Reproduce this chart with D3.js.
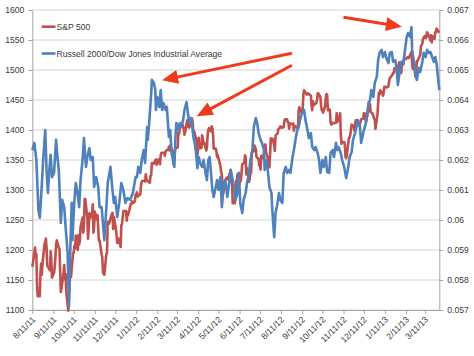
<!DOCTYPE html>
<html>
<head>
<meta charset="utf-8">
<script src="https://cdn.jsdelivr.net/npm/d3@7"></script>
<style>
  html, body { margin: 0; padding: 0; background: #fff; }
  svg { display: block; }
  text { font-family: "Liberation Sans", Arial, sans-serif; }
</style>
</head>
<body>
<svg id="chart" width="474" height="356"></svg>
<script>
// ---------------- DATA ----------------
const seriesNames = ["S&P 500", "Russell 2000/Dow Jones Industrial Average"];

// S&P 500 daily close [date, value] (left axis)
const sp500 = [
["8/11/11",1172],["8/12/11",1179],["8/15/11",1204],["8/16/11",1192],["8/17/11",1193],["8/18/11",1140],["8/19/11",1123],["8/22/11",1123],["8/23/11",1162],["8/24/11",1177],["8/25/11",1159],["8/26/11",1177],["8/29/11",1210],["8/30/11",1212],["8/31/11",1219],
["9/1/11",1204],["9/2/11",1174],["9/6/11",1166],["9/7/11",1198],["9/8/11",1185],["9/9/11",1154],["9/12/11",1162],["9/13/11",1172],["9/14/11",1188],["9/15/11",1209],["9/16/11",1216],["9/19/11",1204],["9/20/11",1202],["9/21/11",1166],["9/22/11",1130],["9/23/11",1136],["9/26/11",1162],["9/27/11",1175],["9/28/11",1151],["9/29/11",1160],["9/30/11",1131],
["10/3/11",1099],["10/4/11",1123],["10/5/11",1144],["10/6/11",1164],["10/7/11",1155],["10/10/11",1195],["10/11/11",1195],["10/12/11",1207],["10/13/11",1203],["10/14/11",1224],["10/17/11",1200],["10/18/11",1225],["10/19/11",1209],["10/20/11",1215],["10/21/11",1238],["10/24/11",1254],["10/25/11",1229],["10/26/11",1242],["10/27/11",1285],["10/28/11",1285],["10/31/11",1253],
["11/1/11",1219],["11/2/11",1237],["11/3/11",1261],["11/4/11",1253],["11/7/11",1262],["11/8/11",1276],["11/9/11",1229],["11/10/11",1240],["11/11/11",1264],["11/14/11",1251],["11/15/11",1258],["11/16/11",1237],["11/17/11",1216],["11/18/11",1216],["11/21/11",1193],["11/22/11",1188],["11/23/11",1162],["11/25/11",1159],["11/28/11",1193],["11/29/11",1196],["11/30/11",1247],
["12/1/11",1244],["12/2/11",1244],["12/5/11",1257],["12/6/11",1259],["12/7/11",1262],["12/8/11",1235],["12/9/11",1255],["12/12/11",1236],["12/13/11",1225],["12/14/11",1212],["12/15/11",1216],["12/16/11",1219],["12/19/11",1205],["12/20/11",1241],["12/21/11",1243],["12/22/11",1254],["12/23/11",1265],["12/27/11",1265],["12/28/11",1249],["12/29/11",1263],["12/30/11",1258],
["1/3/12",1277],["1/4/12",1277],["1/5/12",1281],["1/6/12",1278],["1/9/12",1281],["1/10/12",1292],["1/11/12",1292],["1/12/12",1296],["1/13/12",1289],["1/17/12",1293],["1/18/12",1308],["1/19/12",1314],["1/20/12",1315],["1/23/12",1316],["1/24/12",1314],["1/25/12",1326],["1/26/12",1318],["1/27/12",1316],["1/30/12",1313],["1/31/12",1312],
["2/1/12",1324],["2/2/12",1325],["2/3/12",1345],["2/6/12",1344],["2/7/12",1347],["2/8/12",1349],["2/9/12",1351],["2/10/12",1342],["2/13/12",1351],["2/14/12",1351],["2/15/12",1343],["2/16/12",1358],["2/17/12",1362],["2/21/12",1362],["2/22/12",1357],["2/23/12",1363],["2/24/12",1366],["2/27/12",1367],["2/28/12",1372],["2/29/12",1366],
["3/1/12",1374],["3/2/12",1370],["3/5/12",1364],["3/6/12",1343],["3/7/12",1352],["3/8/12",1366],["3/9/12",1370],["3/12/12",1371],["3/13/12",1396],["3/14/12",1394],["3/15/12",1403],["3/16/12",1404],["3/19/12",1409],["3/20/12",1405],["3/21/12",1402],["3/22/12",1392],["3/23/12",1397],["3/26/12",1416],["3/27/12",1413],["3/28/12",1405],["3/29/12",1404],["3/30/12",1408],
["4/2/12",1419],["4/3/12",1413],["4/4/12",1398],["4/5/12",1398],["4/9/12",1382],["4/10/12",1358],["4/11/12",1368],["4/12/12",1387],["4/13/12",1370],["4/16/12",1370],["4/17/12",1391],["4/18/12",1385],["4/19/12",1377],["4/20/12",1379],["4/23/12",1366],["4/24/12",1371],["4/25/12",1391],["4/26/12",1400],["4/27/12",1403],["4/30/12",1398],
["5/1/12",1406],["5/2/12",1403],["5/3/12",1392],["5/4/12",1369],["5/7/12",1369],["5/8/12",1364],["5/9/12",1355],["5/10/12",1358],["5/11/12",1353],["5/14/12",1339],["5/15/12",1330],["5/16/12",1325],["5/17/12",1305],["5/18/12",1295],["5/21/12",1316],["5/22/12",1318],["5/23/12",1320],["5/24/12",1321],["5/25/12",1318],["5/29/12",1333],["5/30/12",1313],["5/31/12",1310],
["6/1/12",1278],["6/4/12",1278],["6/5/12",1286],["6/6/12",1315],["6/7/12",1315],["6/8/12",1326],["6/11/12",1309],["6/12/12",1324],["6/13/12",1315],["6/14/12",1329],["6/15/12",1343],["6/18/12",1345],["6/19/12",1358],["6/20/12",1355],["6/21/12",1326],["6/22/12",1336],["6/25/12",1314],["6/26/12",1319],["6/27/12",1331],["6/28/12",1329],["6/29/12",1362],
["7/2/12",1365],["7/3/12",1374],["7/5/12",1368],["7/6/12",1355],["7/9/12",1352],["7/10/12",1341],["7/11/12",1341],["7/12/12",1334],["7/13/12",1357],["7/16/12",1353],["7/17/12",1363],["7/18/12",1372],["7/19/12",1376],["7/20/12",1363],["7/23/12",1351],["7/24/12",1338],["7/25/12",1338],["7/26/12",1360],["7/27/12",1386],["7/30/12",1385],["7/31/12",1379],
["8/1/12",1375],["8/2/12",1365],["8/3/12",1391],["8/6/12",1394],["8/7/12",1401],["8/8/12",1402],["8/9/12",1403],["8/10/12",1406],["8/13/12",1404],["8/14/12",1404],["8/15/12",1405],["8/16/12",1415],["8/17/12",1418],["8/20/12",1418],["8/21/12",1413],["8/22/12",1413],["8/23/12",1402],["8/24/12",1411],["8/27/12",1410],["8/28/12",1409],["8/29/12",1411],["8/30/12",1399],["8/31/12",1407],
["9/4/12",1404],["9/5/12",1403],["9/6/12",1432],["9/7/12",1438],["9/10/12",1429],["9/11/12",1433],["9/12/12",1436],["9/13/12",1460],["9/14/12",1466],["9/17/12",1461],["9/18/12",1459],["9/19/12",1461],["9/20/12",1461],["9/21/12",1460],["9/24/12",1457],["9/25/12",1441],["9/26/12",1433],["9/27/12",1448],["9/28/12",1441],
["10/1/12",1444],["10/2/12",1445],["10/3/12",1450],["10/4/12",1461],["10/5/12",1461],["10/8/12",1455],["10/9/12",1441],["10/10/12",1433],["10/11/12",1433],["10/12/12",1429],["10/15/12",1440],["10/16/12",1455],["10/17/12",1460],["10/18/12",1458],["10/19/12",1433],["10/22/12",1434],["10/23/12",1413],["10/24/12",1409],["10/25/12",1412],["10/26/12",1411],["10/31/12",1412],
["11/1/12",1428],["11/2/12",1414],["11/5/12",1418],["11/6/12",1428],["11/7/12",1394],["11/8/12",1377],["11/9/12",1380],["11/12/12",1380],["11/13/12",1375],["11/14/12",1355],["11/15/12",1353],["11/16/12",1359],["11/19/12",1387],["11/20/12",1387],["11/21/12",1392],["11/23/12",1409],["11/26/12",1406],["11/27/12",1399],["11/28/12",1409],["11/29/12",1416],["11/30/12",1416],
["12/3/12",1409],["12/4/12",1407],["12/5/12",1410],["12/6/12",1413],["12/7/12",1418],["12/10/12",1419],["12/11/12",1428],["12/12/12",1428],["12/13/12",1419],["12/14/12",1414],["12/17/12",1430],["12/18/12",1446],["12/19/12",1436],["12/20/12",1443],["12/21/12",1430],["12/24/12",1427],["12/26/12",1419],["12/27/12",1418],["12/28/12",1402],["12/31/12",1426],
["1/2/13",1462],["1/3/13",1459],["1/4/13",1466],["1/7/13",1462],["1/8/13",1457],["1/9/13",1461],["1/10/13",1472],["1/11/13",1472],["1/14/13",1471],["1/15/13",1472],["1/16/13",1472],["1/17/13",1480],["1/18/13",1486],["1/22/13",1492],["1/23/13",1495],["1/24/13",1495],["1/25/13",1503],["1/28/13",1500],["1/29/13",1507],["1/30/13",1502],["1/31/13",1498],
["2/1/13",1513],["2/4/13",1495],["2/5/13",1512],["2/6/13",1512],["2/7/13",1509],["2/8/13",1518],["2/11/13",1518],["2/12/13",1520],["2/13/13",1521],["2/14/13",1521],["2/15/13",1520],["2/19/13",1530],["2/20/13",1512],["2/21/13",1502],["2/22/13",1516],["2/25/13",1488],["2/26/13",1496],["2/27/13",1515],["2/28/13",1515],
["3/1/13",1518],["3/4/13",1525],["3/5/13",1540],["3/6/13",1541],["3/7/13",1544],["3/8/13",1552],["3/11/13",1557],["3/12/13",1553],["3/13/13",1555],["3/14/13",1563],["3/15/13",1561],["3/18/13",1553],["3/19/13",1549],["3/20/13",1558],["3/21/13",1546],["3/22/13",1556],["3/25/13",1552],["3/26/13",1563],["3/27/13",1563],["3/28/13",1569],["4/1/13",1562]
];

// Russell 2000 / Dow ratio (right axis): [days since ratioStart, value]
const ratioStart = "8/11/11";
const ratio = [
[0,.06233],[3,.06257],[6,.06200],[9,.06033],[11,.06007],[14,.06117],[16,.06200],[19,.06300],[21,.06167],[23,.06090],[25,.06167],[27,.06217],[29,.06143],[32,.06157],[35,.06267],[37,.06210],[39,.06167],[42,.05990],[44,.06067],[47,.06043],[49,.05977],[52,.05890],[54,.05713],[56,.05910],[58,.06057],[59,.05933],[62,.06067],[64,.06123],[66,.06100],[69,.06043],[71,.06133],[74,.06200],[76,.06273],[79,.06177],[81,.06210],[84,.06240],[86,.06200],[89,.06210],[91,.06110],[94,.06143],[97,.06110],[99,.06043],[102,.06043],[106,.05933],[109,.06043],[111,.06123],[115,.06177],[118,.06100],[120,.06057],[122,.06077],[125,.06010],[128,.06057],[131,.06123],[134,.06100],[137,.06057],[140,.06073],[144,.06067],[148,.06090],[152,.06143],
[154,.06143],[156,.06177],[159,.06157],[161,.06200],[164,.06233],[166,.06190],[169,.06310],[170,.06267],[172,.06323],[175,.06423],[176,.06467],[179,.06457],[181,.06433],[182,.06367],[184,.06410],[187,.06377],[189,.06433],[191,.06367],[193,.06390],[196,.06367],[198,.06377],[201,.06277],[203,.06300],[205,.06223],[207,.06200],[209,.06177],[211,.06290],[212,.06323],[215,.06300],[217,.06323],[219,.06310],[222,.06333],[224,.06367],[227,.06393],[229,.06357],[231,.06323],[233,.06340],[235,.06323],[237,.06277],[239,.06257],[241,.06223],[243,.06173],[245,.06210],[247,.06190],[250,.06177],[252,.06200],[255,.06157],[257,.06133],[259,.06200],[261,.06210],[263,.06157],[265,.06100],[267,.06077],[270,.06110],[272,.06133],[274,.06100],[277,.06143],[279,.06043],[282,.06123],[284,.06133],[287,.06077],[289,.06110],[292,.06167],[294,.06143],[297,.06110],[299,.06067],[302,.06090],[304,.06157],[306,.06057],
[309,.06023],[311,.06067],[314,.06090],[316,.06123],[319,.06157],[321,.06200],[324,.06233],[326,.06310],[329,.06340],[331,.06323],[333,.06290],[336,.06267],[338,.06257],[341,.06233],[342,.06167],[345,.06200],[347,.06157],[349,.06110],[352,.06090],[353,.06043],[356,.05943],[358,.06023],[361,.06057],[363,.06090],[365,.06067],[368,.06057],[370,.06157],[373,.06177],[375,.06157],[378,.06167],[380,.06157],[383,.06210],[385,.06233],[388,.06277],[390,.06300],[392,.06310],[395,.06343],[397,.06357],[400,.06367],[402,.06333],[405,.06300],[407,.06273],[410,.06290],[412,.06243],[415,.06233],[417,.06243],[420,.06223],[422,.06200],[424,.06157],[427,.06200],[429,.06177],[432,.06210],[434,.06160],[437,.06157],[439,.06223],[442,.06233],[444,.06210],[447,.06257],[449,.06233],[451,.06243],[454,.06223],[456,.06200],[459,.06177],[462,.06140],
[465,.06177],[467,.06210],[470,.06227],[472,.06267],[475,.06290],[477,.06310],[479,.06333],[482,.06317],[484,.06257],[487,.06290],[489,.06307],[492,.06333],[494,.06377],[497,.06400],[499,.06433],[502,.06410],[504,.06457],[507,.06477],[509,.06533],[511,.06557],[514,.06567],[516,.06543],[519,.06560],[521,.06540],[524,.06523],[526,.06557],[529,.06560],[531,.06527],[534,.06533],[536,.06510],[538,.06450],[541,.06500],[543,.06527],[546,.06523],[548,.06557],[551,.06610],[553,.06623],[556,.06610],[558,.06643],[559,.06567],[562,.06523],[564,.06490],[566,.06467],[569,.06507],[571,.06493],[574,.06527],[576,.06557],[579,.06543],[581,.06567],[584,.06557],[586,.06560],[589,.06540],[591,.06527],[593,.06543],[595,.06523],[597,.06477],[599,.06433]
];

const xDomain = ["8/11/11", "4/1/13"];
const xTickLabels = ["8/11/11","9/11/11","10/11/11","11/11/11","12/11/11","1/11/12","2/11/12","3/11/12","4/11/12","5/11/12","6/11/12","7/11/12","8/11/12","9/11/12","10/11/12","11/11/12","12/11/12","1/11/13","2/11/13","3/11/13"];
const leftTicks = [1100,1150,1200,1250,1300,1350,1400,1450,1500,1550,1600];
const rightTicks = [0.057,0.058,0.059,0.060,0.061,0.062,0.063,0.064,0.065,0.066,0.067];
const rightTickLabels = ["0.057","0.058","0.059","0.06","0.061","0.062","0.063","0.064","0.065","0.066","0.067"];

// annotation arrows: [tail date, tail S&P-scale value, head date, head value]
const arrows = [
  ["8/27/12",1528,"2/18/12",1483],
  ["8/27/12",1508,"4/9/12",1423],
  ["11/11/12",1588,"2/5/13",1572]
];

// ---------------- DRAW ----------------
const parse = d3.timeParse("%m/%d/%y");
const svg = d3.select("#chart");
const L = 32.3, R = 439.3, T = 10, B = 310;

const x = d3.scaleTime().domain(xDomain.map(parse)).range([L, R]);
const yL = d3.scaleLinear().domain([1100, 1600]).range([B, T]);
const yR = d3.scaleLinear().domain([0.057, 0.067]).range([B, T]);

const gridColor = "#d4d4d4", axisColor = "#a6a6a6", textColor = "#3a3a3a";
const redColor = "#c0504d", blueColor = "#4f81bd", arrowColor = "#f03a1c";

// gridlines
svg.append("g").selectAll("line").data(leftTicks).join("line")
  .attr("x1", L).attr("x2", R)
  .attr("y1", d => yL(d)).attr("y2", d => yL(d))
  .attr("stroke", gridColor).attr("stroke-width", 1);

// axes
function styleAxis(g) {
  g.selectAll(".domain").attr("stroke", axisColor);
  g.selectAll(".tick line").attr("stroke", axisColor);
  g.selectAll("text").attr("fill", textColor).style("font-size", "8.6px")
    .style("font-family", '"Liberation Sans", Arial, sans-serif');
}
svg.append("g").attr("transform", `translate(${L},0)`)
  .call(d3.axisLeft(yL).tickValues(leftTicks).tickSize(4).tickSizeOuter(0).tickPadding(4).tickFormat(d3.format("d")))
  .call(styleAxis);
svg.append("g").attr("transform", `translate(${R},0)`)
  .call(d3.axisRight(yR).tickValues(rightTicks).tickSize(4).tickSizeOuter(0).tickPadding(4)
    .tickFormat((d, i) => rightTickLabels[i]))
  .call(styleAxis);
const xAxisG = svg.append("g").attr("transform", `translate(0,${B})`)
  .call(d3.axisBottom(x).tickValues(xTickLabels.map(parse)).tickSize(4).tickSizeOuter(0)
    .tickFormat((d, i) => xTickLabels[i]))
  .call(styleAxis);
xAxisG.selectAll(".tick text")
  .attr("text-anchor", "end").attr("x", 0).attr("y", 0).attr("dy", "0.35em")
  .attr("transform", "translate(1,8) rotate(-45)");

// series
const spPts = sp500.map(d => [parse(d[0]), d[1]]);
const start = parse(ratioStart);
const ratioPts = ratio.map(d => [d3.timeDay.offset(start, d[0]), d[1]]);

svg.append("path").datum(spPts)
  .attr("fill", "none").attr("stroke", redColor).attr("stroke-width", 2.6)
  .attr("stroke-linejoin", "round")
  .attr("d", d3.line().x(d => x(d[0])).y(d => yL(d[1])));
svg.append("path").datum(ratioPts)
  .attr("fill", "none").attr("stroke", blueColor).attr("stroke-width", 2.6)
  .attr("stroke-linejoin", "round")
  .attr("d", d3.line().x(d => x(d[0])).y(d => yR(d[1])));

// legend
const legend = svg.append("g");
[[redColor, 26.7], [blueColor, 53.5]].forEach((c, i) => {
  legend.append("line").attr("x1", 41.7).attr("x2", 55.5).attr("y1", c[1]).attr("y2", c[1])
    .attr("stroke", c[0]).attr("stroke-width", 2.6);
  legend.append("text").attr("x", 56.5).attr("y", c[1]).attr("dy", "0.35em")
    .attr("fill", textColor).style("font-size", "8.6px").text(seriesNames[i]);
});

// arrows
const ag = svg.append("g");
arrows.forEach(a => {
  const x1 = x(parse(a[0])), y1 = yL(a[1]), x2 = x(parse(a[2])), y2 = yL(a[3]);
  const ang = Math.atan2(y2 - y1, x2 - x1);
  const hl = 16, hw = 7;
  const bx = x2 - hl * Math.cos(ang), by = y2 - hl * Math.sin(ang);
  ag.append("line").attr("x1", x1).attr("y1", y1).attr("x2", bx + 2 * Math.cos(ang)).attr("y2", by + 2 * Math.sin(ang))
    .attr("stroke", arrowColor).attr("stroke-width", 3);
  const px = -Math.sin(ang), py = Math.cos(ang);
  ag.append("path")
    .attr("d", `M${x2},${y2}L${bx + hw * px},${by + hw * py}L${bx - hw * px},${by - hw * py}Z`)
    .attr("fill", arrowColor);
});
</script>
</body>
</html>
